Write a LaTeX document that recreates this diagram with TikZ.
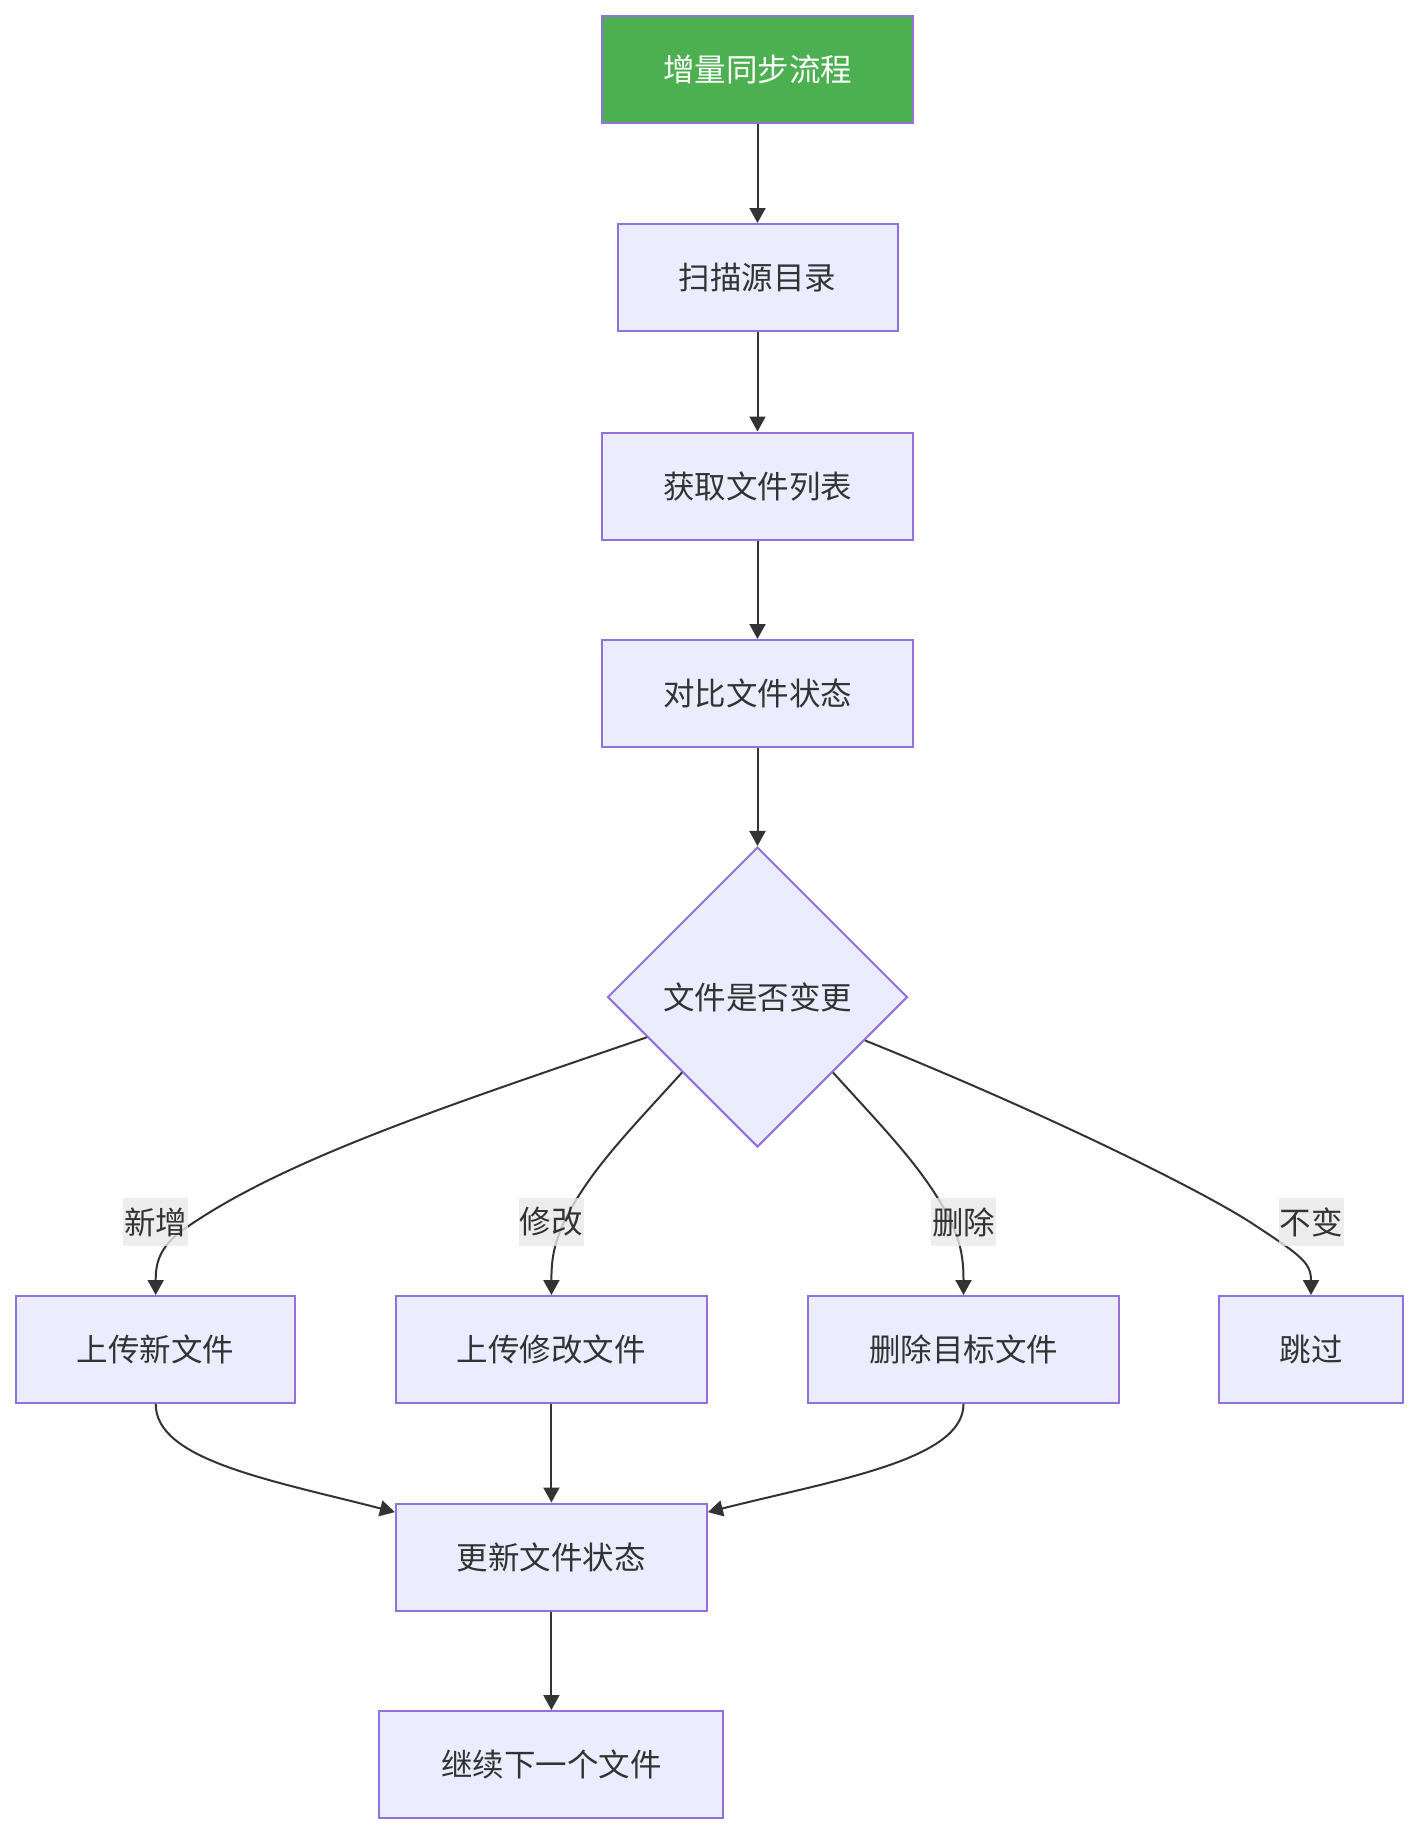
\documentclass[tikz,border=0pt]{standalone}
\usepackage{fontspec}
\setmainfont{Noto Sans CJK SC}
\usepackage{tikz}
\usetikzlibrary{calc,arrows.meta,shapes.geometric}
\definecolor{flowPurple}{RGB}{147,112,219}
\definecolor{flowFill}{RGB}{236,236,255}
\definecolor{flowGreen}{RGB}{76,175,80}
\definecolor{flowInk}{RGB}{51,51,51}
\definecolor{labelGray}{RGB}{232,232,232}

\begin{document}
\begin{tikzpicture}[x=1pt,y=-1pt,
  box/.style={draw=flowPurple,fill=flowFill,line width=2pt,minimum height=107pt,inner sep=0pt,text=flowInk,font=\fontsize{31.5}{38}\selectfont},
  decide/.style={box,diamond,minimum width=300pt,minimum height=300pt},
  flow/.style={draw=flowInk,line width=2pt,-{Triangle[length=15pt,width=16pt]}},
  tag/.style={fill=labelGray,fill opacity=0.8,text opacity=1,text=flowInk,inner sep=1pt,minimum height=48pt,font=\fontsize{31.5}{38}\selectfont}]
\useasboundingbox (0,0) rectangle (1420,1836);

\node[box,fill=flowGreen,text=white,minimum width=311pt] (start) at (757.5,69.5) {增量同步流程};
\node[box,minimum width=280pt] (scan) at (757.5,277.5) {扫描源目录};
\node[box,minimum width=311pt] (list) at (757.5,486) {获取文件列表};
\node[box,minimum width=311pt] (cmp) at (757.5,693.5) {对比文件状态};
\node[decide] (chk) at (757.5,997) {文件是否变更};

\node[box,minimum width=279pt] (add) at (155.7,1349.5) {上传新文件};
\node[box,minimum width=311pt] (mod) at (551.4,1349.5) {上传修改文件};
\node[box,minimum width=311pt] (del) at (963.5,1349.5) {删除目标文件};
\node[box,minimum width=184pt] (skip) at (1311,1349.5) {跳过};
\node[box,minimum width=311pt] (upd) at (551.4,1557) {更新文件状态};
\node[box,minimum width=344pt] (next) at (551.4,1764.5) {继续下一个文件};

% main line
\draw[flow] (start) -- (scan);
\draw[flow] (scan) -- (list);
\draw[flow] (list) -- (cmp);
\draw[flow] (cmp) -- (chk);

% branches
\draw[flow] (chk.200) .. controls (450,1105) and (280,1160) .. (180,1232) .. controls (160,1248) and (155.7,1262) .. (add.north);
\draw[flow] (chk.south west) .. controls (630,1130) and (590,1170) .. (565,1220) .. controls (553,1245) and (551.4,1262) .. (mod.north);
\draw[flow] (chk.south east) .. controls (885,1130) and (925,1170) .. (950,1220) .. controls (962,1245) and (963.5,1262) .. (del.north);
\draw[flow] (chk.338) .. controls (1050,1115) and (1200,1190) .. (1250,1222) .. controls (1300,1255) and (1311,1262) .. (skip.north);

\node[tag] (tAdd) at (155.7,1222) {新增};
\node[tag] (tMod) at (551.4,1222) {修改};
\node[tag] (tDel) at (963.5,1222) {删除};
\node[tag] (tSkip) at (1311,1222) {不变};

% merge
\draw[flow] (add.south) .. controls (155.7,1460) and (270,1480) .. (upd.164);
\draw[flow] (mod) -- (upd);
\draw[flow] (del.south) .. controls (963.5,1460) and (835,1480) .. (upd.16);
\draw[flow] (upd) -- (next);
\end{tikzpicture}
\end{document}
